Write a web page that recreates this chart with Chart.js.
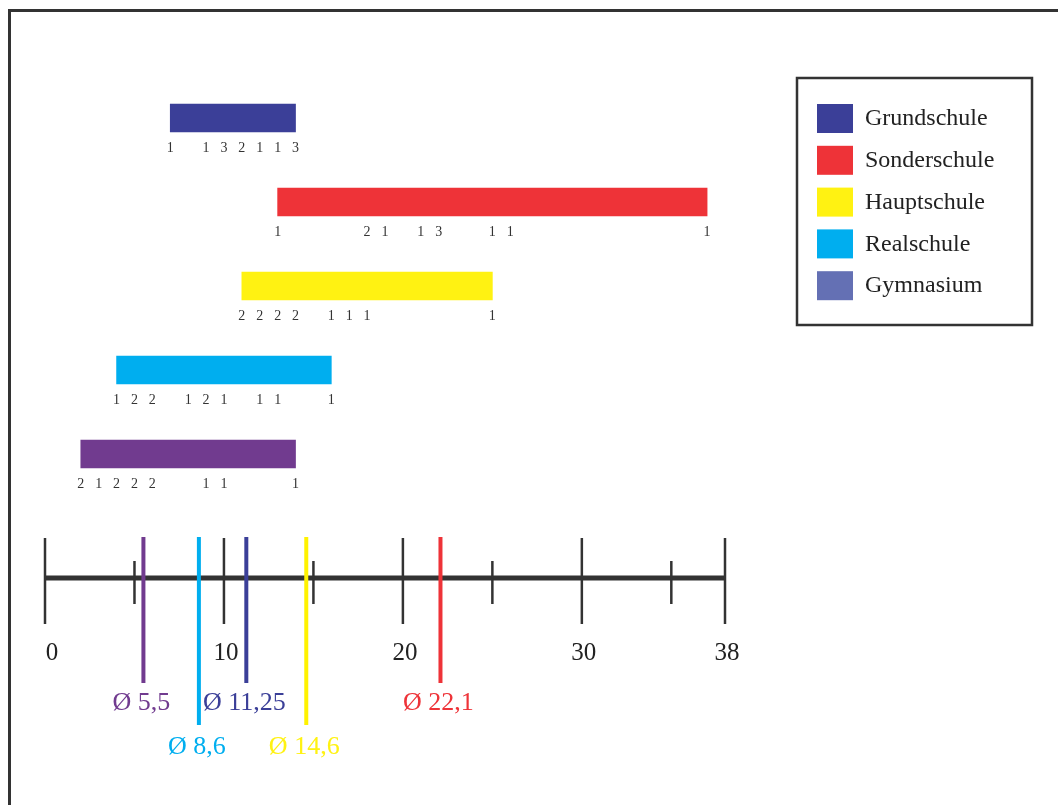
<!DOCTYPE html>
<html lang="de">
<head>
  <meta charset="UTF-8">
  <title>Schulformen</title>
  <script src="https://cdn.jsdelivr.net/npm/chart.js"></script>
  <style>
    body { margin: 0; background: #fff; }
  </style>
</head>
<body>
  <canvas id="schulChart" width="1058" height="805"></canvas>

  <script>
    // data
    const categories = ['Grundschule', 'Sonderschule', 'Hauptschule', 'Realschule', 'Gymnasium'];
    const rangeStart = [7, 13, 11, 4, 2];
    const rangeEnd = [14, 37, 25, 16, 14];
    const means = [11.25, 22.1, 14.6, 8.6, 5.5];
    const meanLabels = ['Ø 11,25', 'Ø 22,1', 'Ø 14,6', 'Ø 8,6', 'Ø 5,5'];
    // value positions and how many at each, per school
    const countAt = [
      [7, 9, 10, 11, 12, 13, 14],
      [13, 18, 19, 21, 22, 25, 26, 37],
      [11, 12, 13, 14, 16, 17, 18, 25],
      [4, 5, 6, 8, 9, 10, 12, 13, 16],
      [2, 3, 4, 5, 6, 9, 10, 14]
    ];
    const countNum = [
      [1, 1, 3, 2, 1, 1, 3],
      [1, 2, 1, 1, 3, 1, 1, 1],
      [2, 2, 2, 2, 1, 1, 1, 1],
      [1, 2, 2, 1, 2, 1, 1, 1, 1],
      [2, 1, 2, 2, 2, 1, 1, 1]
    ];
    const majorTicks = [0, 10, 20, 30, 38];
    const minorTicks = [5, 15, 25, 35];

    const barColors = ['#3b3f98', '#ee3338', '#fff212', '#00aeef', '#713b8f'];
    const legendColors = ['#3b3f98', '#ee3338', '#fff212', '#00aeef', '#6470b4'];
    const serif = "'Liberation Serif', 'DejaVu Serif', serif";

    const extras = {
      id: 'extras',
      beforeDraw(chart) {
        const c = chart.ctx;
        c.save();
        c.fillStyle = '#fff';
        c.fillRect(0, 0, chart.width, chart.height);
        c.strokeStyle = '#333';
        c.lineWidth = 3;
        c.beginPath();
        c.moveTo(9.5, 805);
        c.lineTo(9.5, 10.5);
        c.lineTo(1058, 10.5);
        c.stroke();
        c.restore();
      },
      afterDatasetsDraw(chart) {
        const c = chart.ctx;
        const x = chart.scales.x;
        const y = chart.scales.y;
        c.save();

        // counts under the bars
        c.font = '14px ' + serif;
        c.fillStyle = '#333';
        c.textAlign = 'center';
        c.textBaseline = 'middle';
        categories.forEach((cat, i) => {
          const yc = y.getPixelForValue(i) + 30;
          countAt[i].forEach((v, j) => {
            c.fillText(String(countNum[i][j]), x.getPixelForValue(v), yc);
          });
        });

        // number line
        const axisY = 578;
        c.strokeStyle = '#333';
        c.lineWidth = 5;
        c.beginPath();
        c.moveTo(x.getPixelForValue(0), axisY);
        c.lineTo(x.getPixelForValue(38), axisY);
        c.stroke();
        c.lineWidth = 2.5;
        majorTicks.forEach(v => {
          const px = x.getPixelForValue(v);
          c.beginPath();
          c.moveTo(px, 538);
          c.lineTo(px, 624);
          c.stroke();
        });
        minorTicks.forEach(v => {
          const px = x.getPixelForValue(v);
          c.beginPath();
          c.moveTo(px, 561);
          c.lineTo(px, 604);
          c.stroke();
        });
        c.font = '25px ' + serif;
        c.fillStyle = '#222';
        majorTicks.forEach(v => {
          const px = x.getPixelForValue(v) + (v === 0 ? 7 : 2);
          c.fillText(String(v), px, 653);
        });

        // mean lines
        c.lineWidth = 4;
        c.font = '26px ' + serif;
        means.forEach((m, i) => {
          const low = (i === 2 || i === 3);
          const px = x.getPixelForValue(m);
          c.strokeStyle = barColors[i] === '#fff212' ? '#fff200' : barColors[i];
          c.beginPath();
          c.moveTo(px, 537);
          c.lineTo(px, low ? 725 : 683);
          c.stroke();
          c.fillStyle = barColors[i];
          c.fillText(meanLabels[i], px - 2, low ? 747 : 703);
        });

        // legend box
        c.strokeStyle = '#333';
        c.lineWidth = 2.5;
        c.strokeRect(797, 78, 235, 247);
        c.textAlign = 'left';
        c.font = '24px ' + serif;
        categories.forEach((cat, i) => {
          const top = 104 + i * 41.8;
          c.fillStyle = legendColors[i];
          c.fillRect(817, top, 36, 29);
          c.fillStyle = '#222';
          c.fillText(cat, 865, top + 15);
        });
        c.restore();
      }
    };

    new Chart(document.getElementById('schulChart'), {
      type: 'bar',
      data: {
        labels: categories,
        datasets: [{
          data: rangeStart.map((s, i) => [s, rangeEnd[i]]),
          backgroundColor: barColors,
          borderWidth: 0,
          barThickness: 28
        }]
      },
      options: {
        indexAxis: 'y',
        responsive: false,
        animation: false,
        layout: { padding: { left: 45, right: 333, top: 76, bottom: 309 } },
        scales: {
          x: { type: 'linear', min: 0, max: 38, display: false },
          y: { display: false }
        },
        plugins: {
          legend: { display: false },
          tooltip: { enabled: false }
        }
      },
      plugins: [extras]
    });
  </script>
</body>
</html>
